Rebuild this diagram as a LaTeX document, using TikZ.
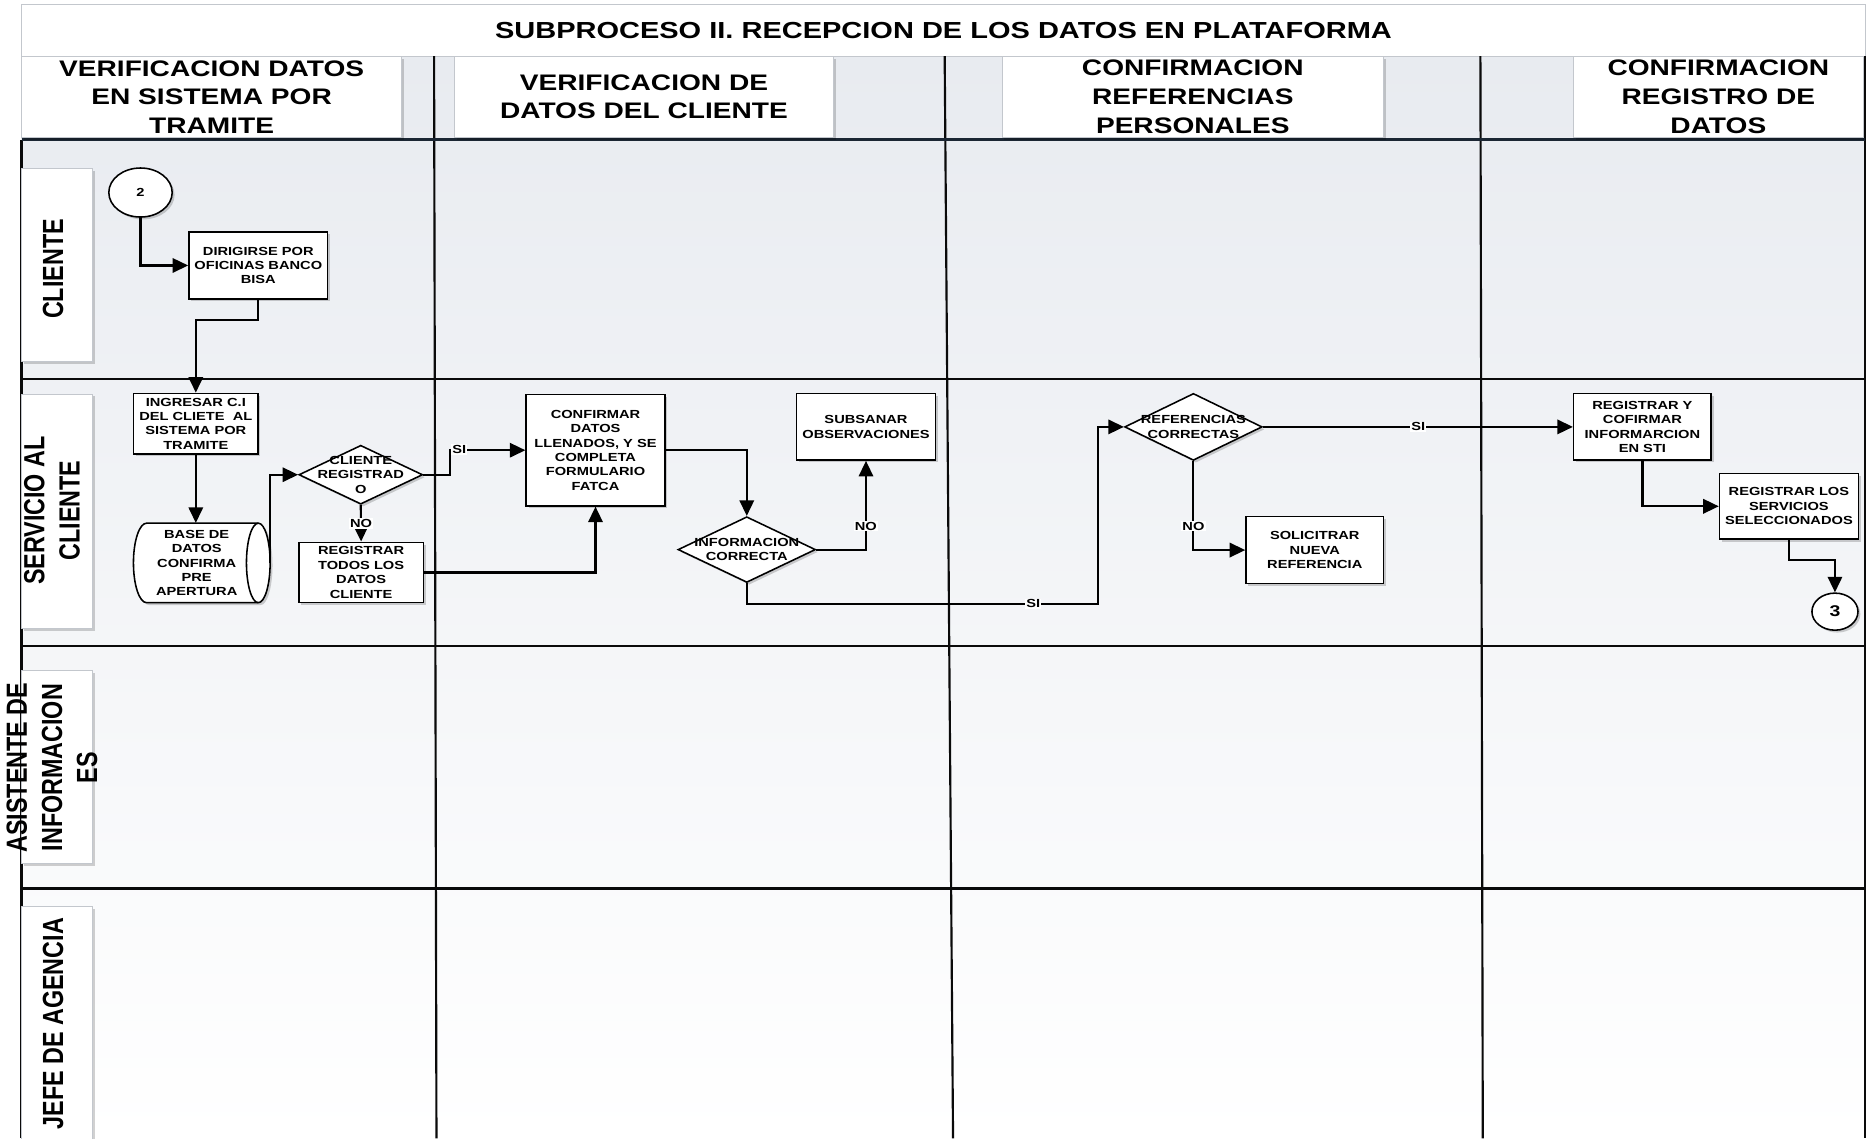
\documentclass[tikz,border=0pt]{standalone}
\usepackage{fontspec}
\usepackage{graphicx}
\setmainfont{Liberation Sans}[FakeStretch=1.25]
\newfontfamily\lanefont{Liberation Sans}
\usetikzlibrary{arrows.meta,shapes.geometric,shadows}

\definecolor{lanebg}{HTML}{E8EBF0}
\definecolor{paneledge}{HTML}{C3C7CD}
\definecolor{gridink}{HTML}{0A0A0A}
\definecolor{headink}{HTML}{1B2633}

\newcommand\flowfont{\fontsize{9.8}{12}\selectfont\bfseries}
\newcommand\headfont{\fontsize{18.8}{24}\selectfont\bfseries}
\newcommand\titlefont{\fontsize{19.4}{23}\selectfont\bfseries}
\newcommand\lanetextfont{\lanefont\fontsize{19.5}{23.5}\selectfont\bfseries}
\newcommand\lanelabel[1]{\scalebox{1}[1.25]{\begin{tabular}{@{}c@{}}#1\end{tabular}}}

\tikzset{
  softshadow/.style={drop shadow={shadow xshift=2pt, shadow yshift=-2pt, opacity=0.18, fill=black}},
  frame/.style={draw=paneledge, line width=0.8pt, fill=white, inner sep=0pt},
  panel/.style={frame, softshadow},
  header/.style={panel, align=center, font=\headfont},
  lanetext/.style={rotate=90, font=\lanetextfont, inner sep=0pt},
  proc/.style={draw=black, line width=1.3pt, fill=white, inner sep=0pt, align=center, font=\flowfont, softshadow},
  decision/.style={proc, shape=diamond},
  terminal/.style={proc, shape=ellipse},
  flowtext/.style={align=center, font=\flowfont, inner sep=0pt},
  flow/.style={line width=1.8pt, draw=black, -{Triangle[length=13pt,width=12pt]}},
  tag/.style={fill=white, inner sep=1pt, font=\flowfont},
  grid/.style={draw=gridink, line width=1.8pt},
}

\begin{document}
\begin{tikzpicture}[x=1pt,y=-1pt]
\useasboundingbox (0,0) rectangle (1568,952);
\fill[white] (0,0) rectangle (1568,952);

% swimlane background: light tint fading downwards
\shade[top color=lanebg, bottom color=white] (18,47) rectangle (1560,952);

% title band
\node[frame, minimum width=1542pt, minimum height=43pt] (title) at (789,25.5)
  {\titlefont SUBPROCESO II. RECEPCION DE LOS DATOS EN PLATAFORMA};

% lane grid
\draw[grid] (18,117) -- (18,952);
\draw[grid] (1559.5,47) -- (1559.5,952);
\draw[grid] (363,47) -- (365,952);
\draw[grid] (790,47) -- (797,952);
\draw[grid] (1238,47) -- (1240,952);
\draw[grid] (18,317) -- (1560,317);
\draw[grid] (18,540) -- (1560,540);
\draw[grid] (18,743) -- (1560,743);
\draw[draw=headink, line width=2.6pt] (18,117) -- (1560,117);

% column headers
\node[header, minimum width=318pt, minimum height=68pt] (h1) at (177,81)
  {VERIFICACION DATOS\\EN SISTEMA POR\\TRAMITE};
\node[header, minimum width=317pt, minimum height=68pt] (h2) at (538.5,81)
  {VERIFICACION DE\\DATOS DEL CLIENTE};
\node[header, minimum width=319pt, minimum height=68pt] (h3) at (997.5,81)
  {CONFIRMACION\\REFERENCIAS\\PERSONALES};
\node[header, minimum width=242pt, minimum height=68pt] (h4) at (1437,81)
  {CONFIRMACION\\REGISTRO DE\\DATOS};

% lane labels
\node[panel, minimum width=59.5pt, minimum height=161.5pt] (lc) at (47.5,221.5) {};
\node[panel, minimum width=59.5pt, minimum height=196pt] (ls) at (47.5,427.5) {};
\node[panel, minimum width=59.5pt, minimum height=161pt] (la) at (47.5,641.5) {};
\node[panel, minimum width=59.5pt, minimum height=210pt] (lj) at (47.5,863) {};
\node[lanetext] (tc) at (47,225) {\lanelabel{CLIENTE}};
\node[lanetext] (ts) at (46,427) {\lanelabel{SERVICIO AL\\CLIENTE}};
\node[lanetext] (ta) at (46,642) {\lanelabel{ASISTENTE DE\\INFORMACION\\ES}};
\node[lanetext] (tj) at (47,856) {\lanelabel{JEFE DE AGENCIA}};

% flow elements
\node[terminal, minimum width=53pt, minimum height=41pt] (c2) at (117.5,161) {2};
\node[proc, minimum width=116pt, minimum height=56pt] (dir) at (216,222)
  {DIRIGIRSE POR\\OFICINAS BANCO\\BISA};
\node[proc, minimum width=104pt, minimum height=50.6pt] (ing) at (163.75,354.3)
  {INGRESAR C.I\\DEL CLIETE\ \ AL\\SISTEMA POR\\TRAMITE};

% stored data: BASE DE DATOS
\node[inner sep=0pt, minimum width=114.4pt, minimum height=66.5pt] (bd) at (168.7,470.75) {};
\fill[black, opacity=0.18] (124.6,439.5) -- (218,439.5)
  arc[start angle=-90, end angle=90, x radius=9.9, y radius=33.25]
  -- (124.6,506) arc[start angle=90, end angle=270, x radius=11, y radius=33.25] -- cycle;
\draw[line width=1.3pt, fill=white] (122.6,437.5) -- (216,437.5)
  arc[start angle=-90, end angle=90, x radius=9.9, y radius=33.25]
  -- (122.6,504) arc[start angle=90, end angle=270, x radius=11, y radius=33.25] -- cycle;
\draw[line width=1.3pt] (216,437.5)
  arc[start angle=-90, end angle=-270, x radius=9.9, y radius=33.25];
\node[flowtext] (bdt) at (164.5,471) {BASE DE\\DATOS\\CONFIRMA\\PRE\\APERTURA};

\node[decision, minimum width=103.5pt, minimum height=49.3pt] (d1) at (301.7,397) {};
\node[flowtext] (d1t) at (d1) {CLIENTE\\REGISTRAD\\O};
\node[proc, minimum width=104pt, minimum height=50.5pt] (reg) at (302,478.75)
  {REGISTRAR\\TODOS LOS\\DATOS\\CLIENTE};
\node[proc, minimum width=116pt, minimum height=93pt] (cf) at (498,376.5)
  {CONFIRMAR\\DATOS\\LLENADOS, Y SE\\COMPLETA\\FORMULARIO\\FATCA};
\node[decision, minimum width=115pt, minimum height=55pt] (d2) at (624.5,459.6) {};
\node[flowtext] (d2t) at (d2) {INFORMACION\\CORRECTA};
\node[proc, minimum width=116pt, minimum height=55.5pt] (sub) at (724.2,357)
  {SUBSANAR\\OBSERVACIONES};
\node[decision, minimum width=115pt, minimum height=56pt] (d3) at (998,357) {};
\node[flowtext] (d3t) at (d3) {REFERENCIAS\\CORRECTAS};
\node[proc, minimum width=115pt, minimum height=56pt] (sol) at (1099.5,460)
  {SOLICITRAR\\NUEVA\\REFERENCIA};
\node[proc, minimum width=115pt, minimum height=55.5pt] (reg2) at (1373.5,357)
  {REGISTRAR Y\\COFIRMAR\\INFORMARCION\\EN STI};
\node[proc, minimum width=116pt, minimum height=55pt] (reg3) at (1496,423.4)
  {REGISTRAR LOS\\SERVICIOS\\SELECCIONADOS};
\node[terminal, minimum width=38.5pt, minimum height=31pt, font=\fontsize{13}{15}\selectfont\bfseries] (c3) at (1534.5,511.5) {3};

% connectors
\coordinate (j1) at (376,397);
\coordinate (j2) at (918,505);
\draw[flow] (c2.south) |- (dir.west);
\draw[flow] (dir.south) -- ++(0,17) -| (ing.north);
\draw[flow] (ing.south) -- (ing.south |- bd.north);
\draw[flow] (bd.east) |- (d1.west);
\draw[flow] (d1.south) -- (reg.north);
\draw[flow] (d1.east) -- (j1) |- (cf.west);
\draw[flow] (reg.east) -| (cf.south);
\draw[flow] (cf.east) -| (d2.north);
\draw[flow] (d2.east) -| (sub.south);
\draw[flow] (d2.south) |- (j2) |- (d3.west);
\draw[flow] (d3.east) -- (reg2.west);
\draw[flow] (d3.south) |- (sol.west);
\draw[flow] (reg2.south) |- (reg3.west);
\draw[flow] (reg3.south) -- ++(0,17) -| (c3.north);

% branch labels
\node[tag] (l1) at (302,438) {NO};
\node[tag] (l2) at (384,376) {SI};
\node[tag] (l3) at (724,440) {NO};
\node[tag] (l4) at (864,505) {SI};
\node[tag] (l5) at (1186,357) {SI};
\node[tag] (l6) at (998,440) {NO};
\end{tikzpicture}
\end{document}
